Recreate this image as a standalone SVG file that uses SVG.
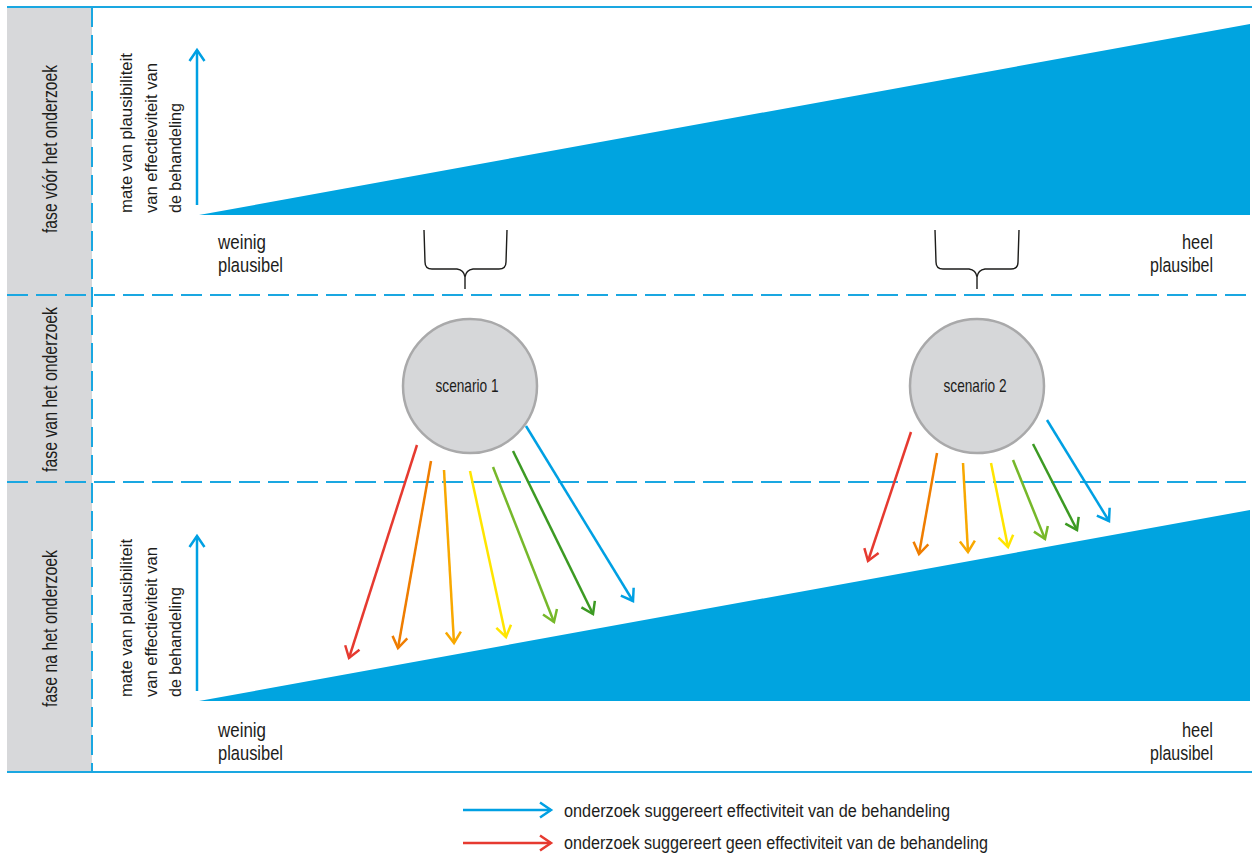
<svg xmlns="http://www.w3.org/2000/svg" width="1256" height="854" viewBox="0 0 1256 854">
<style>
.t{font-family:"Liberation Sans",Arial,sans-serif;fill:#1d1d1b;}
.dash{stroke:#1aa7e1;stroke-width:2;fill:none;stroke-dasharray:21 8;}
.solid{stroke:#1aa7e1;stroke-width:2;fill:none;}
.tri{fill:#00a4e0;}
.brace{stroke:#1d1d1b;stroke-width:1.4;fill:none;}
.circ{fill:#d6d7d9;stroke:#a9a9aa;stroke-width:2.5;}
.ar{stroke-width:2.5;fill:none;}
</style>
<defs>
<marker id="mRed" markerUnits="userSpaceOnUse" viewBox="-14 -10 16 20" refX="0" refY="0" markerWidth="16" markerHeight="20" orient="auto" overflow="visible"><path d="M-11,-7.5 L0,0 L-11,7.5" fill="none" stroke="#e63a30" stroke-width="2.5"/></marker>
<marker id="mOra" markerUnits="userSpaceOnUse" viewBox="-14 -10 16 20" refX="0" refY="0" markerWidth="16" markerHeight="20" orient="auto" overflow="visible"><path d="M-11,-7.5 L0,0 L-11,7.5" fill="none" stroke="#ef7d00" stroke-width="2.5"/></marker>
<marker id="mAmb" markerUnits="userSpaceOnUse" viewBox="-14 -10 16 20" refX="0" refY="0" markerWidth="16" markerHeight="20" orient="auto" overflow="visible"><path d="M-11,-7.5 L0,0 L-11,7.5" fill="none" stroke="#f8a800" stroke-width="2.5"/></marker>
<marker id="mYel" markerUnits="userSpaceOnUse" viewBox="-14 -10 16 20" refX="0" refY="0" markerWidth="16" markerHeight="20" orient="auto" overflow="visible"><path d="M-11,-7.5 L0,0 L-11,7.5" fill="none" stroke="#ffe500" stroke-width="2.5"/></marker>
<marker id="mLgr" markerUnits="userSpaceOnUse" viewBox="-14 -10 16 20" refX="0" refY="0" markerWidth="16" markerHeight="20" orient="auto" overflow="visible"><path d="M-11,-7.5 L0,0 L-11,7.5" fill="none" stroke="#76b82a" stroke-width="2.5"/></marker>
<marker id="mDgr" markerUnits="userSpaceOnUse" viewBox="-14 -10 16 20" refX="0" refY="0" markerWidth="16" markerHeight="20" orient="auto" overflow="visible"><path d="M-11,-7.5 L0,0 L-11,7.5" fill="none" stroke="#3c9a23" stroke-width="2.5"/></marker>
<marker id="mBlu" markerUnits="userSpaceOnUse" viewBox="-14 -10 16 20" refX="0" refY="0" markerWidth="16" markerHeight="20" orient="auto" overflow="visible"><path d="M-11,-7.5 L0,0 L-11,7.5" fill="none" stroke="#00a0e3" stroke-width="2.5"/></marker>
</defs>
<rect width="1256" height="854" fill="#ffffff"/>

<g id="frame">
<rect x="7" y="7" width="85" height="765" fill="#d7d8da"/>
<line class="solid" x1="7" y1="7" x2="1252" y2="7"/>
<line class="solid" x1="7" y1="772" x2="1252" y2="772"/>
<line class="dash" x1="7" y1="295" x2="1252" y2="295"/>
<line class="dash" x1="7" y1="482" x2="1252" y2="482"/>
<line class="dash" x1="92" y1="7" x2="92" y2="772" style="stroke-dasharray:20 8"/>
</g>

<g id="phase-labels">
<text class="t" font-size="20.5" transform="translate(57,233) rotate(-90)" textLength="168" lengthAdjust="spacingAndGlyphs">fase vóór het onderzoek</text>
<text class="t" font-size="20.5" transform="translate(57,472) rotate(-90)" textLength="165" lengthAdjust="spacingAndGlyphs">fase van het onderzoek</text>
<text class="t" font-size="20.5" transform="translate(57,707) rotate(-90)" textLength="157" lengthAdjust="spacingAndGlyphs">fase na het onderzoek</text>
</g>

<g id="top-axis">
<polygon class="tri" points="199,215 1250,24 1250,215"/>
<line x1="197" y1="205" x2="197" y2="50" stroke="#00a0e3" stroke-width="2.5" marker-end="url(#mBlu)"/>
<text class="t" font-size="17" transform="translate(132,213) rotate(-90)" textLength="160" lengthAdjust="spacingAndGlyphs">mate van plausibiliteit</text>
<text class="t" font-size="17" transform="translate(157,213) rotate(-90)" textLength="150" lengthAdjust="spacingAndGlyphs">van effectieviteit van</text>
<text class="t" font-size="17" transform="translate(181,213) rotate(-90)" textLength="110" lengthAdjust="spacingAndGlyphs">de behandeling</text>
<text class="t" font-size="20.5" x="218" y="249" textLength="48" lengthAdjust="spacingAndGlyphs">weinig</text>
<text class="t" font-size="20.5" x="218" y="272" textLength="65" lengthAdjust="spacingAndGlyphs">plausibel</text>
<text class="t" font-size="20.5" x="1182" y="249" textLength="31" lengthAdjust="spacingAndGlyphs">heel</text>
<text class="t" font-size="20.5" x="1150" y="272" textLength="63" lengthAdjust="spacingAndGlyphs">plausibel</text>
</g>

<g id="brace-1">
<path class="brace" d="M424,230 L425,262 Q425,269 432,269 L457,269 Q464,270 465,277 L465,289 M507,230 L506,262 Q506,269 499,269 L473,269 Q466,270 465,277"/>
</g>
<g id="brace-2">
<path class="brace" d="M935,230 L936,262 Q936,269 943,269 L969,269 Q976,270 977,277 L977,289 M1019,230 L1018,262 Q1018,269 1011,269 L985,269 Q978,270 977,277"/>
</g>

<g id="scenario-1">
<circle class="circ" cx="470" cy="386" r="67"/>
<text class="t" font-size="18.5" x="467" y="392" text-anchor="middle" textLength="63" lengthAdjust="spacingAndGlyphs">scenario 1</text>
</g>
<g id="scenario-2">
<circle class="circ" cx="977" cy="386" r="67"/>
<text class="t" font-size="18.5" x="975" y="392" text-anchor="middle" textLength="63" lengthAdjust="spacingAndGlyphs">scenario 2</text>
</g>

<g id="bottom-axis">
<polygon class="tri" points="199,701 1250,510 1250,701"/>
<line x1="197" y1="691" x2="197" y2="536" stroke="#00a0e3" stroke-width="2.5" marker-end="url(#mBlu)"/>
<text class="t" font-size="17" transform="translate(132,697) rotate(-90)" textLength="158" lengthAdjust="spacingAndGlyphs">mate van plausibiliteit</text>
<text class="t" font-size="17" transform="translate(157,697) rotate(-90)" textLength="150" lengthAdjust="spacingAndGlyphs">van effectieviteit van</text>
<text class="t" font-size="17" transform="translate(181,697) rotate(-90)" textLength="110" lengthAdjust="spacingAndGlyphs">de behandeling</text>
<text class="t" font-size="20.5" x="218" y="737" textLength="48" lengthAdjust="spacingAndGlyphs">weinig</text>
<text class="t" font-size="20.5" x="218" y="760" textLength="65" lengthAdjust="spacingAndGlyphs">plausibel</text>
<text class="t" font-size="20.5" x="1182" y="737" textLength="31" lengthAdjust="spacingAndGlyphs">heel</text>
<text class="t" font-size="20.5" x="1150" y="760" textLength="63" lengthAdjust="spacingAndGlyphs">plausibel</text>
</g>

<g id="connectors">
<line class="ar" stroke="#e63a30" x1="417" y1="445" x2="349" y2="658" marker-end="url(#mRed)"/>
<line class="ar" stroke="#ef7d00" x1="431" y1="461" x2="398" y2="648" marker-end="url(#mOra)"/>
<line class="ar" stroke="#f8a800" x1="444" y1="470" x2="454" y2="643" marker-end="url(#mAmb)"/>
<line class="ar" stroke="#ffe500" x1="470" y1="471" x2="506" y2="637" marker-end="url(#mYel)"/>
<line class="ar" stroke="#76b82a" x1="493" y1="467" x2="554" y2="622" marker-end="url(#mLgr)"/>
<line class="ar" stroke="#3c9a23" x1="513" y1="451" x2="593" y2="614" marker-end="url(#mDgr)"/>
<line class="ar" stroke="#00a0e3" x1="526" y1="426" x2="633" y2="601" marker-end="url(#mBlu)"/>

<line class="ar" stroke="#e63a30" x1="911" y1="432" x2="868" y2="561" marker-end="url(#mRed)"/>
<line class="ar" stroke="#ef7d00" x1="937" y1="453" x2="919" y2="554" marker-end="url(#mOra)"/>
<line class="ar" stroke="#f8a800" x1="963" y1="463" x2="968" y2="552" marker-end="url(#mAmb)"/>
<line class="ar" stroke="#ffe500" x1="991" y1="463" x2="1008" y2="547" marker-end="url(#mYel)"/>
<line class="ar" stroke="#76b82a" x1="1013" y1="460" x2="1045" y2="539" marker-end="url(#mLgr)"/>
<line class="ar" stroke="#3c9a23" x1="1033" y1="444" x2="1077" y2="530" marker-end="url(#mDgr)"/>
<line class="ar" stroke="#00a0e3" x1="1047" y1="420" x2="1109" y2="521" marker-end="url(#mBlu)"/>
</g>

<g id="legend">
<line class="ar" stroke="#00a0e3" x1="463" y1="810" x2="551" y2="810" marker-end="url(#mBlu)"/>
<line class="ar" stroke="#e63a30" x1="463" y1="843" x2="551" y2="843" marker-end="url(#mRed)"/>
<text class="t" font-size="18" x="564" y="817" textLength="386" lengthAdjust="spacingAndGlyphs">onderzoek suggereert effectiviteit van de behandeling</text>
<text class="t" font-size="18" x="564" y="849" textLength="424" lengthAdjust="spacingAndGlyphs">onderzoek suggereert geen effectiviteit van de behandeling</text>
</g>
</svg>
